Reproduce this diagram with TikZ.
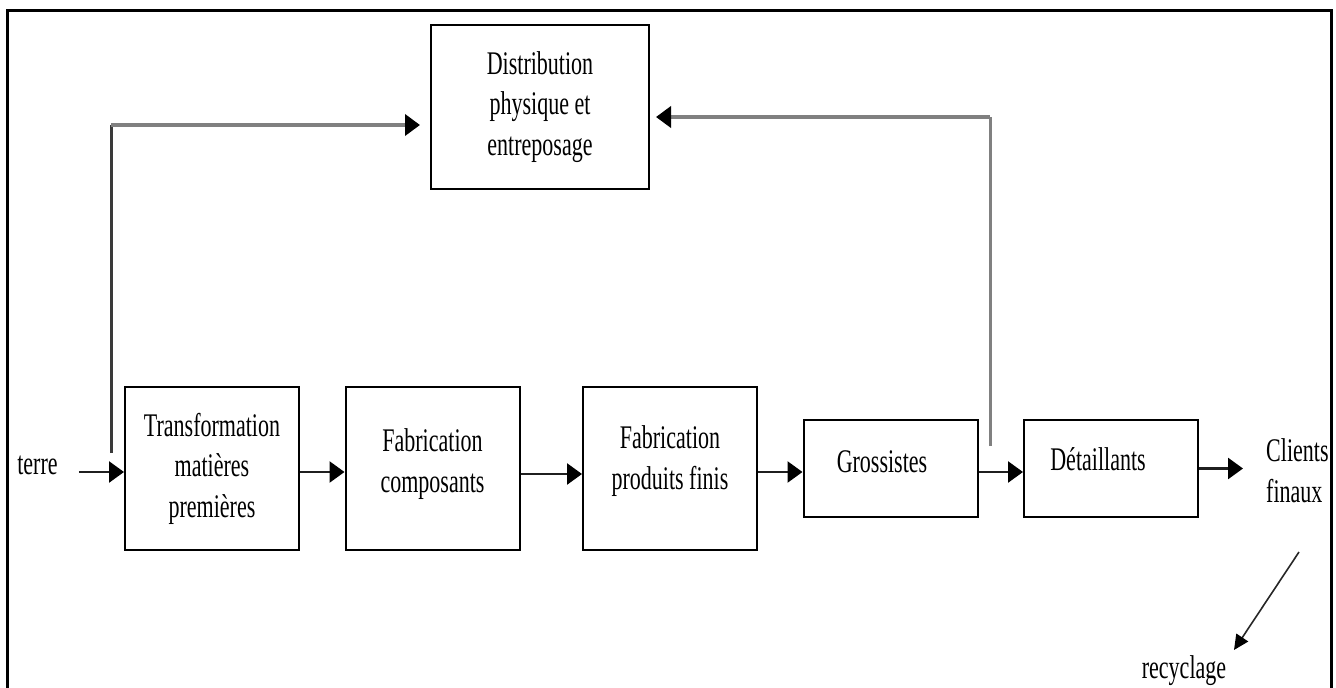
\documentclass[tikz,border=0pt]{standalone}
\usepackage{fontspec}
\setmainfont{Liberation Serif}[FakeStretch=0.667]
\usetikzlibrary{arrows.meta}
\definecolor{loopgray}{HTML}{808080}
\definecolor{loopdark}{HTML}{3A3A3A}
\begin{document}
\begin{tikzpicture}[x=1pt,y=-1pt,
  every node/.style={font=\fontsize{33}{40.5}\selectfont, inner sep=0pt},
  box/.style={draw=black, line width=2pt, align=center},
  bigbox/.style={box, minimum width=174pt, minimum height=163pt},
  smallbox/.style={box, minimum width=174pt, minimum height=97pt},
  head/.style={-{Triangle[length=15pt,width=21pt,color=black]}},
  flow/.style={head, draw=black!88, line width=2.6pt},
  loopline/.style={draw=loopgray, line width=4pt},
  loopup/.style={line width=3pt},
  thinflow/.style={draw=black!85, line width=1.6pt, -{Triangle[length=15pt,width=14pt,color=black]}}
]
\useasboundingbox (0,0) rectangle (1336,688);

% frame
\draw[line width=3pt] (7,688) -- (7,10) -- (1331,10) -- (1331,688);

% storage block
\node[box, minimum width=218pt, minimum height=164pt] (dist) at (540,107)
  {Distribution\\physique et\\entreposage};

% main chain
\node[bigbox] (trans) at (212,468.5) {Transformation\\matières\\premières};
\node[bigbox, text depth=16pt] (comp) at (432.5,468.5) {Fabrication\\composants};
\node[bigbox, text depth=22pt] (fini) at (670,468.5) {Fabrication\\produits finis};
\node[smallbox, text depth=14pt] (gros) at (890.5,468.5) {Grossistes\hspace*{17pt}};
\node[smallbox, text depth=19pt] (det) at (1111,468.5) {Détaillants\hspace*{26pt}};

% end labels
\node (terre) at (37.5,465.5) {terre};
\node[anchor=west, align=left] (cli) at (1266,470.5) {Clients\\finaux};
\node[anchor=base] (recy) at (1184,678) {recyclage};

% flow along the chain
\draw[flow, shorten <=21pt] ([yshift=-6.5pt]terre.east) -- ([yshift=-3.5pt]trans.west);
\draw[flow] ([yshift=-3.5pt]trans.east) -- ([yshift=-3.5pt]comp.west);
\draw[flow] ([yshift=-5.5pt]comp.east) -- ([yshift=-5.5pt]fini.west);
\draw[flow] ([yshift=-3.5pt]fini.east) -- ([yshift=-3.5pt]gros.west);
\draw[flow] ([yshift=-3.5pt]gros.east) -- ([yshift=-3.5pt]det.west);
\draw[flow, shorten >=23pt] (det.east) -- (det.east -| cli.west);

% branches to the storage block
\coordinate (lb) at (111,453);
\coordinate (lt) at (111,125);
\coordinate (rb) at (990,446);
\coordinate (rt) at (990,117);
\draw[loopup, draw=loopdark] (lb) -- (lt);
\draw[loopline, head, shorten >=10pt] (lt) -- ([yshift=-18pt]dist.west);
\draw[loopup, draw=loopgray] (rb) -- (rt);
\draw[loopline, head, shorten >=6pt] (rt) -- ([yshift=-10pt]dist.east);

% recycling
\coordinate (rs) at (1299,552);
\coordinate (re) at (1234,650);
\draw[thinflow] (rs) -- (re);
\end{tikzpicture}
\end{document}
